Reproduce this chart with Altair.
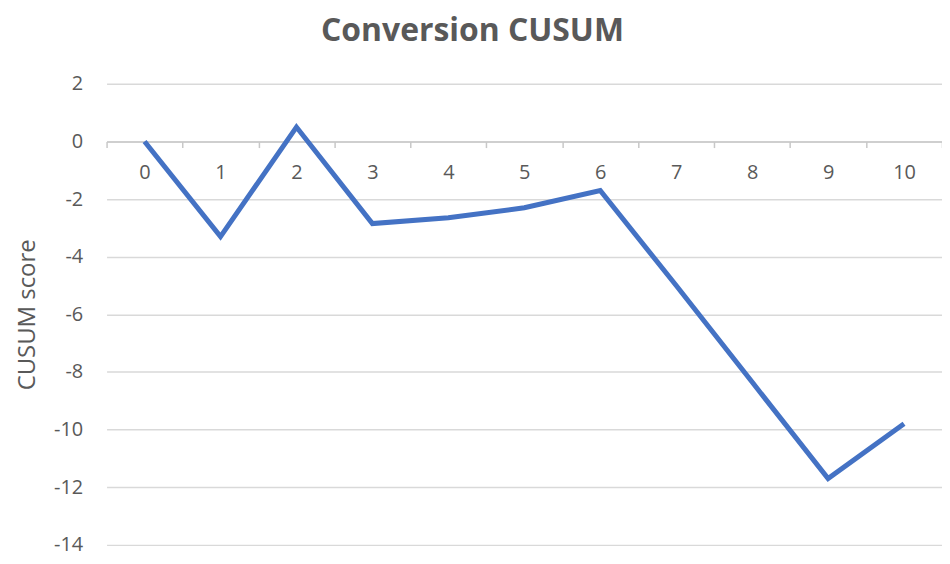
import altair as alt
import pandas as pd

steps = ["0", "1", "2", "3", "4", "5", "6", "7", "8", "9", "10"]
scores = [0.0, -3.3, 0.5, -2.85, -2.65, -2.3, -1.7, -5.0, -8.35, -11.7, -9.8]
y_ticks = [2, 0, -2, -4, -6, -8, -10, -12, -14]

df = pd.DataFrame({"step": steps, "score": scores})

FONT = "Open Sans"
GRAY = "#595959"
GRID = "#d9d9d9"

W = 839
H = 463
zero_offset = -round(H * 14 / 16)  # move x axis up to y = 0

chart = (
    alt.Chart(df)
    .mark_line(color="#4472C4", strokeWidth=5, strokeJoin="miter")
    .encode(
        x=alt.X(
            "step:O",
            sort=steps,
            scale=alt.Scale(type="band", paddingInner=0, paddingOuter=0),
            axis=alt.Axis(
                title=None,
                orient="bottom",
                offset=zero_offset,
                labelAngle=0,
                grid=False,
                domain=True,
                domainColor="#c8c8c8",
                domainWidth=1.5,
                ticks=True,
                tickBand="extent",
                tickColor="#c8c8c8",
                tickWidth=1.5,
                tickSize=6,
                labelPadding=15,
                labelFont=FONT,
                labelFontSize=20,
                labelColor=GRAY,
            ),
        ),
        y=alt.Y(
            "score:Q",
            scale=alt.Scale(domain=[-14, 2], nice=False, zero=False),
            axis=alt.Axis(
                title="CUSUM score",
                values=y_ticks,
                labelExpr="toString(datum.value)",
                domain=False,
                ticks=False,
                grid=True,
                gridColor=GRID,
                gridWidth=1.5,
                labelPadding=24,
                labelFont=FONT,
                labelFontSize=20,
                labelColor=GRAY,
                titleFont=FONT,
                titleFontSize=24,
                titleFontWeight="normal",
                titleColor=GRAY,
                titlePadding=14,
            ),
        ),
    )
    .properties(
        width=W,
        height=H,
        autosize=alt.AutoSizeParams(type="none"),
        padding={"left": 99, "top": 75, "right": 0, "bottom": 10},
        title=alt.TitleParams(
            "Conversion CUSUM",
            font=FONT,
            fontSize=32,
            fontWeight="bold",
            color=GRAY,
            anchor="middle",
            dx=-52,
            offset=26,
        ),
    )
    .configure_view(stroke=None)
)

chart.save("out.html", embed_options={"renderer": "svg", "actions": False})
